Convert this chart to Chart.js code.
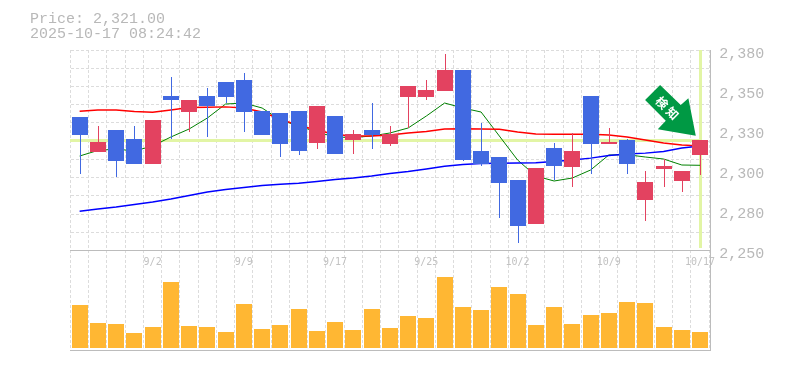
<!DOCTYPE html>
<html>
<head>
<meta charset="utf-8">
<style>html,body{margin:0;padding:0;background:#fff}canvas{display:block}</style>
<script src="https://cdn.jsdelivr.net/npm/chart.js@4/dist/chart.umd.js"></script>
</head>
<body>
<canvas id="c" width="785" height="370"></canvas>
<script>
const titleLines = ['Price: 2,321.00', '2025-10-17 08:24:42'];
const currentPrice = 2321;
const markerText = '検知';
const dates = ['8/27','8/28','8/29','9/1','9/2','9/3','9/4','9/5','9/8','9/9','9/10','9/11','9/12','9/16','9/17','9/18','9/19','9/22','9/24','9/25','9/26','9/29','9/30','10/1','10/2','10/3','10/6','10/7','10/8','10/9','10/10','10/14','10/15','10/16','10/17'];
const dateLabels = ['9/2','9/9','9/17','9/25','10/2','10/9','10/17'];
const priceTicks = [2380,2354,2328,2302,2276,2250];
const opens  = [2336.45,2313.7,2328,2322.15,2305.9,2350.1,2339.7,2350.1,2359.2,2360.5,2340.35,2339.05,2340.35,2319.55,2337.1,2321.5,2328,2318.9,2349.45,2349.45,2353.35,2367,2314.35,2310.45,2295.5,2266.9,2316.3,2303.95,2350.1,2318.9,2321.5,2282.5,2302.65,2294.85,2311.75];
const closes = [2324.75,2320.2,2307.85,2305.9,2334.5,2347.5,2347.5,2343.6,2349.45,2339.7,2324.75,2318.9,2314.35,2343.6,2312.4,2325.4,2324.75,2325.4,2356.6,2354,2367,2308.5,2305.9,2293.55,2265.6,2303.3,2304.6,2314.35,2318.9,2320.2,2305.9,2294.2,2304.6,2301.35,2321.5];
const highs  = [2336.45,2330.6,2328,2330.6,2334.5,2362.5,2347.5,2355.3,2359.2,2365,2340.35,2339.05,2340.35,2343.6,2337.1,2328,2345.55,2330.6,2356.6,2360.5,2377.4,2367,2332.55,2310.45,2295.5,2303.3,2319.55,2326.05,2350.1,2329.3,2322.15,2301.35,2309.15,2301.35,2321.5];
const lows   = [2299.4,2313.7,2297.45,2305.9,2305.9,2322.15,2326.7,2323.45,2345.55,2326.7,2324.75,2310.45,2311.75,2315.65,2312.4,2312.4,2315.65,2317.6,2329.3,2347.5,2353.35,2307.85,2304.6,2270.8,2254.4,2266.9,2295.5,2290.95,2299.4,2318.9,2299.4,2268.85,2290.95,2287.7,2298.75];
const maShort = [2311.1,2314.7,2315.65,2314.35,2317.6,2323.45,2328.65,2335.8,2344.9,2345.55,2342.3,2334.5,2330.6,2326.7,2323.45,2323.1,2324.1,2326.05,2329.3,2337.1,2345.55,2342.3,2339.7,2324.1,2308.5,2298.1,2294.85,2296.8,2302,2311.75,2311.95,2310.45,2309.15,2305.25,2305.05];
const maMid = [2340.15,2341,2341,2340,2339.5,2341,2342.6,2342.75,2343,2342.3,2339.7,2335.15,2330.9,2328,2325.1,2324.1,2324.1,2324.75,2326.05,2327,2328.65,2328.85,2328.65,2328.45,2326.7,2325.4,2325.2,2325.2,2325.2,2324.75,2323.45,2321.5,2319.55,2318.25,2317.7];
const maLong = [2275.15,2276.65,2277.95,2279.6,2281.2,2283.15,2285.4,2287.7,2289.3,2290.6,2291.9,2292.7,2293.35,2294.5,2295.8,2296.8,2298.1,2299.7,2301,2302.65,2304.4,2305.6,2306.2,2306.4,2306.55,2306.7,2307.5,2308.5,2309.7,2311.4,2312.4,2313,2314,2316.3,2317.6];
const volumes = [43000,25000,24000,15000,21000,66000,22000,21000,16000,44000,19000,23000,39000,17000,26000,18000,39000,20000,32000,30000,71000,41000,38000,61000,54000,23000,41000,24000,33000,35000,46000,45000,21000,18000,16000];

const UP = '#E34260', DOWN = '#4169E1', VOL = '#FFB733';
const candleColors = closes.map((c, i) => c >= opens[i] ? UP : DOWN);
const GRID = '#dcdcdc', AXIS = '#bcbcbc', TICK = '#b8b8b8', MARK = '#E2F5A5';
const MONO = '"Liberation Mono", monospace';
const MONO_SMALL = '"DejaVu Sans Mono", monospace';

const candleChrome = {
  id: 'candleChrome',
  afterDatasetsUpdate(chart) {
    chart.data.datasets.forEach((d, i) => {
      const meta = chart.getDatasetMeta(i);
      if (meta.type !== 'bar') return;
      const shift = d.barThickness === 1 ? 0.5 : 0;
      meta.data.forEach(el => {
        el.x = Math.round(el.x) + shift;
        el.y = Math.round(el.y);
        el.base = Math.round(el.base);
      });
    });
  },
  beforeDatasetsDraw(chart) {
    const {ctx, chartArea: a, scales} = chart;
    const px = Math.round(scales.x.getPixelForValue(dates.length - 1));
    const py = Math.floor(scales.y.getPixelForValue(currentPrice));
    const y250 = scales.y.getPixelForValue(priceTicks[priceTicks.length - 1]);
    ctx.save();
    ctx.fillStyle = MARK;
    ctx.fillRect(Math.floor(a.left), py - 1, px - Math.floor(a.left), 3);
    ctx.fillRect(px - 1, a.top, 3, y250 - a.top - 2);
    ctx.restore();
  },
  afterDraw(chart) {
    const {ctx, chartArea: a, scales} = chart;
    ctx.save();
    ctx.fillStyle = AXIS;
    ctx.fillRect(Math.round(a.right) + 1, a.top, 1, a.bottom - a.top + 1);
    ctx.fillRect(Math.floor(a.left), a.bottom, Math.round(a.right) + 2 - Math.floor(a.left), 1);
    ctx.fillStyle = TICK;
    ctx.font = '15px ' + MONO;
    ctx.textBaseline = 'alphabetic';
    ctx.fillText(titleLines[0], 30, 23);
    ctx.fillText(titleLines[1], 30, 38);
    // signal arrow, anchored to the last candle
    const ax = scales.x.getPixelForValue(dates.length - 1);
    const ay = scales.y.getPixelForValue(closes[closes.length - 1]);
    ctx.translate(ax, ay);
    ctx.fillStyle = '#009944';
    ctx.beginPath();
    [[-55,-40],[-40,-55],[-19.3,-35],[-11.7,-41.7],[-4.3,-4.3],[-42.3,-10.7],[-34.3,-19.3]].forEach((p, i) => i ? ctx.lineTo(p[0], p[1]) : ctx.moveTo(p[0], p[1]));
    ctx.closePath();
    ctx.fill();
    ctx.translate(-32.8, -32);
    ctx.rotate(Math.PI / 4);
    ctx.fillStyle = '#fff';
    ctx.font = 'bold 12px "Noto Sans CJK JP"';
    ctx.letterSpacing = '3px';
    ctx.textAlign = 'center';
    ctx.textBaseline = 'middle';
    ctx.fillText(markerText, 1.5, 0);
    ctx.restore();
  }
};

new Chart(document.getElementById('c'), {
  data: {
    labels: dates,
    datasets: [
      {type:'line', label:'MA long', data:maLong, yAxisID:'y', borderColor:'#0000FF', borderWidth:1.4, pointRadius:0, tension:0, order:3},
      {type:'line', label:'MA mid', data:maMid, yAxisID:'y', borderColor:'#FF0000', borderWidth:1.4, pointRadius:0, tension:0, order:3},
      {type:'line', label:'MA short', data:maShort, yAxisID:'y', borderColor:'#008000', borderWidth:1, pointRadius:0, tension:0, order:3},
      {type:'bar', label:'Range', data:lows.map((l, i) => [l, highs[i]]), yAxisID:'y', backgroundColor:candleColors, barThickness:1, grouped:false, inflateAmount:0, borderWidth:0, order:2},
      {type:'bar', label:'Body', data:opens.map((o, i) => [o, closes[i]]), yAxisID:'y', backgroundColor:candleColors, barThickness:16, grouped:false, inflateAmount:0, borderWidth:0, order:1},
      {type:'bar', label:'Volume', data:volumes, yAxisID:'yVol', backgroundColor:VOL, barThickness:16, grouped:false, inflateAmount:0, borderWidth:0, order:1}
    ]
  },
  options: {
    responsive: false,
    animation: false,
    events: [],
    layout: {padding: {left: 70.5, top: 50, right: 5.8, bottom: 20}},
    plugins: {legend: {display: false}, tooltip: {enabled: false}},
    scales: {
      x: {
        position: {y: priceTicks[priceTicks.length - 1]},
        offset: true,
        grid: {offset: true, color: GRID, drawTicks: false},
        border: {color: AXIS, dash: [3, 2]},
        ticks: {
          autoSkip: false, maxRotation: 0, padding: 6,
          color: '#c2c2c2', font: {family: MONO_SMALL, size: 10},
          callback(v) { const l = this.getLabelForValue(v); return dateLabels.includes(l) ? l : ''; }
        }
      },
      y: {
        position: 'right', min: 2185, max: 2380,
        afterBuildTicks(s) { s.ticks = priceTicks.map(value => ({value})); },
        afterFit(s) { s.width = 70; },
        grid: {display: false, drawTicks: false},
        border: {display: false},
        ticks: {
          autoSkip: false, padding: 10, labelOffset: 4,
          color: TICK, font: {family: MONO, size: 15},
          callback(v) { return (Math.round(v / 10) * 10).toLocaleString('en-US'); }
        }
      },
      yGrid: {
        axis: 'y', position: 'left', reverse: true, min: 0, max: 300 / 18.23,
        afterFit(s) { s.width = 0; },
        grid: {color: c => (c.tick && c.tick.value < 11) ? GRID : 'transparent', drawTicks: false},
        border: {display: false, dash: [3, 2]},
        ticks: {display: false, stepSize: 1}
      },
      yVol: {axis: 'y', display: false, min: -2000, max: 298000}
    }
  },
  plugins: [candleChrome]
});
</script>
</body>
</html>
